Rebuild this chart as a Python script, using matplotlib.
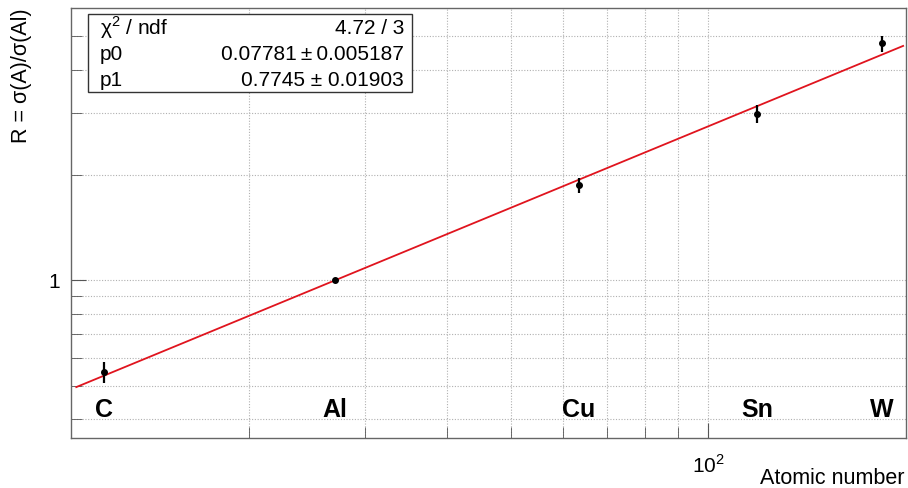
import numpy as np
import matplotlib
matplotlib.use("Agg")
import matplotlib.pyplot as plt
from matplotlib.patches import Rectangle
from matplotlib.ticker import FixedLocator, NullFormatter

plt.rcParams['font.family'] = ['Liberation Sans', 'DejaVu Sans']
plt.rcParams['mathtext.fontset'] = 'custom'
plt.rcParams['mathtext.rm'] = 'Liberation Sans'

# data
elements = ['C', 'Al', 'Cu', 'Sn', 'W']
mass = [12.01, 26.98, 63.55, 118.71, 183.84]
ratio = [0.547, 1.0, 1.868, 2.99, 4.75]
ratio_err = [0.037, 0.0, 0.087, 0.17, 0.25]

# fit R = p0 * A^p1
p0, p0_err = 0.07781, 0.005187
p1, p1_err = 0.7745, 0.01903
chi2, ndf = 4.72, 3

W, H = 908, 488
fig = plt.figure(figsize=(W / 100, H / 100), dpi=100)
L, R, T, B = 71, 906, 8, 438
ax = fig.add_axes([L / W, 1 - B / H, (R - L) / W, (B - T) / H])
ax.set_xscale('log')
ax.set_yscale('log')
ax.set_xlim(10.7, 200)
ax.set_ylim(0.354, 6.0)

# grid (ROOT style dotted)
xgrid = [20, 30, 40, 50, 60, 70, 80, 90, 100]
ygrid = [0.4, 0.5, 0.6, 0.7, 0.8, 0.9, 1, 2, 3, 4, 5]
for xv in xgrid:
    ax.axvline(xv, color='#b0b0b0', lw=0.8, ls=(0, (1, 1.5)), zorder=0)
for yv in ygrid:
    ax.axhline(yv, color='#b0b0b0', lw=0.8, ls=(0, (1, 1.5)), zorder=0)

ax.xaxis.set_major_locator(FixedLocator([100]))
ax.xaxis.set_minor_locator(FixedLocator(xgrid[:-1] + [200]))
ax.yaxis.set_major_locator(FixedLocator([1]))
ax.yaxis.set_minor_locator(FixedLocator([0.4, 0.5, 0.6, 0.7, 0.8, 0.9, 2, 3, 4, 5]))
ax.xaxis.set_minor_formatter(NullFormatter())
ax.yaxis.set_minor_formatter(NullFormatter())
ax.set_xticklabels([r'$\mathrm{10}^{2}$'])
ax.set_yticklabels(['1'])
ax.tick_params(which='both', direction='in', color='#555555', top=False, right=False)
ax.tick_params(which='major', length=11, labelsize=15, pad=8)
ax.tick_params(which='minor', length=8)
ax.tick_params(axis='x', which='major', pad=12)
for s in ax.spines.values():
    s.set_color('#666666')
    s.set_linewidth(1.0)

# fit curve
xf = np.logspace(np.log10(10.9), np.log10(198), 200)
ax.plot(xf, p0 * xf ** p1, color='#e0141e', lw=1.3, zorder=3)

# points
ax.errorbar(mass, ratio, yerr=ratio_err, fmt='o', color='black', ms=4,
            elinewidth=1.6, capsize=0, zorder=4)

# element labels
for name, a in zip(elements, mass):
    ax.text(a, 0.425, name, ha='center', va='center', fontsize=18,
            fontweight='bold', zorder=5)

ax.set_ylabel('R = σ(A)/σ(Al)', fontsize=15.5, loc='top', labelpad=12)
fig.text(905 / W, 1 - 478 / H, 'Atomic number', ha='right', va='center', fontsize=15.5)

# stats box
bx0, bx1, by0, by1 = 88, 412, 14, 92
fig.patches.append(Rectangle((bx0 / W, 1 - by1 / H), (bx1 - bx0) / W, (by1 - by0) / H,
                             transform=fig.transFigure, facecolor='white',
                             edgecolor='#333333', lw=1.0, zorder=10))
rows = [('χ$^{2}$ / ndf', '%.2f / %d' % (chi2, ndf)),
        ('p0', '%.5f\u2009±\u2009%.6f' % (p0, p0_err)),
        ('p1', '%.4f ± %.5f' % (p1, p1_err))]
row_y = [28, 55, 80]
for (lab, val), yy in zip(rows, row_y):
    fig.text(100 / W, 1 - yy / H, lab, ha='left', va='center', fontsize=15, zorder=11)
    fig.text(404 / W, 1 - yy / H, val, ha='right', va='center', fontsize=15, zorder=11)

fig.savefig('out.png', dpi=100)
